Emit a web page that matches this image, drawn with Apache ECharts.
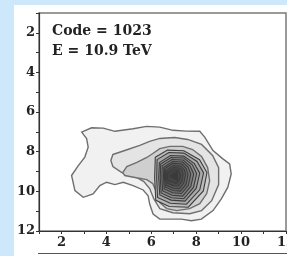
<!DOCTYPE html>
<html>
<head>
<meta charset="utf-8">
<script src="https://cdn.jsdelivr.net/npm/echarts@6/dist/echarts.min.js"></script>
<style>
    html, body { margin: 0; padding: 0; background: #cde8fb; }
    #contour_chart { position: absolute; left: 14px; top: 5px; width: 273px; height: 251px; background: #fff; }
</style>
</head>
<body>
<div id="contour_chart"></div>
<script>
// tick labels shown on the axes
const xTickLabels = [2, 4, 6, 8, 10, 12];
const yTickLabels = [2, 4, 6, 8, 10, 12];

const annotation = ["Code = 1023", "E = 10.9 TeV"];

// contour polygons, outermost level first, [x, y]
const level1 = [[2.90,7.01],[3.34,6.79],[3.86,6.81],[4.38,6.97],[5.19,6.84],[5.79,6.72],[6.38,6.76],[6.97,6.92],[7.56,6.96],[8.16,6.97],[8.38,7.26],[8.75,7.94],[9.19,8.36],[9.49,8.61],[9.56,9.12],[9.41,9.79],[9.12,10.38],[8.75,10.97],[8.23,11.40],[7.79,11.48],[7.34,11.40],[6.82,11.40],[6.38,11.40],[6.08,11.14],[5.93,10.64],[5.86,10.22],[5.64,9.93],[5.19,9.71],[4.75,9.54],[4.38,9.66],[4.01,9.54],[3.71,9.71],[3.41,10.13],[2.97,10.30],[2.60,9.96],[2.45,9.20],[2.75,8.70],[3.04,8.27],[3.19,7.77],[3.12,7.34]];
const level2 = [[4.29,8.14],[4.82,7.94],[5.49,7.68],[5.93,7.48],[6.38,7.33],[7.04,7.28],[7.62,7.38],[8.24,7.63],[8.73,8.19],[9.00,8.80],[9.00,9.66],[8.69,10.47],[8.24,10.97],[7.71,11.13],[6.96,11.08],[6.38,10.87],[6.11,10.37],[5.93,9.86],[5.67,9.51],[5.27,9.25],[4.69,9.05],[4.29,8.75],[4.20,8.44]];
const level3 = [[4.73,9.05],[4.91,8.75],[5.36,8.54],[5.80,8.29],[6.07,8.09],[6.38,7.84],[6.82,7.73],[7.40,7.73],[7.84,7.89],[8.24,8.24],[8.51,8.80],[8.60,9.46],[8.47,10.11],[8.16,10.62],[7.71,10.87],[7.13,10.97],[6.69,10.87],[6.38,10.57],[6.24,10.06],[6.07,9.61],[5.80,9.41],[5.27,9.30],[4.82,9.20]];
const level4 = [[6.18,8.28],[6.72,7.92],[7.45,7.95],[8.15,8.40],[8.48,9.05],[8.32,9.98],[7.65,10.80],[6.80,10.76],[6.20,10.45],[6.15,9.30]];
const level5 = [[6.26,8.40],[6.78,8.04],[7.45,8.07],[8.04,8.49],[8.33,9.07],[8.16,9.92],[7.57,10.65],[6.84,10.60],[6.28,10.31],[6.24,9.30]];
const level6 = [[6.36,8.55],[6.85,8.19],[7.45,8.22],[7.92,8.60],[8.16,9.08],[8.00,9.85],[7.50,10.49],[6.88,10.44],[6.38,10.18],[6.33,9.30]];
const level7 = [[6.42,8.62],[6.88,8.29],[7.45,8.32],[7.83,8.66],[8.02,9.10],[7.88,9.80],[7.45,10.37],[6.90,10.32],[6.44,10.08],[6.40,9.30]];
const level8 = [[6.49,8.70],[6.92,8.39],[7.42,8.42],[7.73,8.72],[7.89,9.12],[7.76,9.75],[7.40,10.24],[6.93,10.20],[6.51,9.98],[6.47,9.30]];
const level9 = [[6.56,8.78],[6.95,8.49],[7.40,8.52],[7.64,8.78],[7.76,9.13],[7.65,9.70],[7.35,10.11],[6.95,10.07],[6.58,9.88],[6.54,9.30]];
const level10 = [[6.60,8.85],[6.97,8.59],[7.37,8.62],[7.55,8.84],[7.64,9.15],[7.55,9.65],[7.30,9.99],[6.97,9.96],[6.62,9.78],[6.59,9.30]];
const level11 = [[6.64,8.93],[6.99,8.70],[7.33,8.72],[7.47,8.90],[7.53,9.16],[7.45,9.58],[7.25,9.86],[6.98,9.84],[6.66,9.68],[6.63,9.30]];
const level12 = [[6.69,9.00],[7.00,8.80],[7.28,8.82],[7.38,8.96],[7.42,9.17],[7.36,9.50],[7.20,9.73],[6.99,9.71],[6.70,9.58],[6.68,9.30]];
const level13 = [[6.73,9.07],[7.02,8.90],[7.22,8.92],[7.31,9.18],[7.26,9.43],[7.12,9.61],[6.74,9.48],[6.72,9.28]];
const level14 = [[6.82,9.22],[7.15,9.00],[7.17,9.45]];

const contourLevels = [level1, level2, level3, level4, level5, level6, level7,
    level8, level9, level10, level11, level12, level13, level14];

const grayFills = ["#f1f1f1", "#e4e4e4", "#cfcfcf", "#bababa", "#aaaaaa", "#9b9b9b", "#8d8d8d",
    "#7f7f7f", "#727272", "#656565", "#595959", "#4e4e4e", "#444444", "#3a3a3a"];

const serifBold = '"DejaVu Serif", serif';

const axisCommon = {
    type: "value",
    min: 1,
    max: 12,
    interval: 1,
    splitLine: { show: false },
    axisLine: { onZero: false, lineStyle: { color: "#333", width: 1.2 } },
    axisTick: { inside: false, length: 3, lineStyle: { color: "#333" } },
};

const drawChart = () => {
    const chart = echarts.init(document.getElementById("contour_chart"));

    const option = {
        animation: false,
        grid: {
            left: 25,
            top: 8,
            right: 1,
            bottom: 25,
            outerBoundsMode: "none",
            show: true,
            borderColor: "#7a7a7a",
            borderWidth: 1.5
        },
        xAxis: {
            ...axisCommon,
            position: "bottom",
            axisLabel: {
                margin: 5,
                fontFamily: serifBold,
                fontWeight: "bold",
                fontSize: 13,
                color: "#222",
                formatter: v => xTickLabels.includes(v) ? String(v) : ""
            }
        },
        yAxis: {
            ...axisCommon,
            inverse: true,
            axisLabel: {
                margin: 4,
                fontFamily: serifBold,
                fontWeight: "bold",
                fontSize: 13,
                color: "#222",
                formatter: v => yTickLabels.includes(v) ? String(v) : ""
            }
        },
        graphic: [
            ...annotation.map((t, i) => ({
                type: "text",
                left: 38,
                top: 19 + i * 20,
                style: {
                    text: t,
                    font: `bold 14px ${serifBold}`,
                    fill: "#222"
                }
            })),
            {
                type: "line",
                shape: { x1: 24, y1: 248.5, x2: 273, y2: 248.5 },
                style: { stroke: "#555", lineWidth: 1.2 }
            }
        ],
        series: [{
            type: "custom",
            coordinateSystem: "cartesian2d",
            clip: true,
            silent: true,
            data: contourLevels.map(pts => pts[0]),
            renderItem: (params, api) => {
                const i = params.dataIndex;
                return {
                    type: "polygon",
                    z2: i,
                    shape: { points: contourLevels[i].map(p => api.coord(p)) },
                    style: {
                        fill: grayFills[i],
                        stroke: i < 3 ? "#6e6e6e" : "#3c3c3c",
                        lineWidth: i < 3 ? 1.4 : 1.1
                    }
                };
            }
        }]
    };

    chart.setOption(option);
};

document.addEventListener("DOMContentLoaded", () => {
    drawChart();
});
</script>
</body>
</html>
